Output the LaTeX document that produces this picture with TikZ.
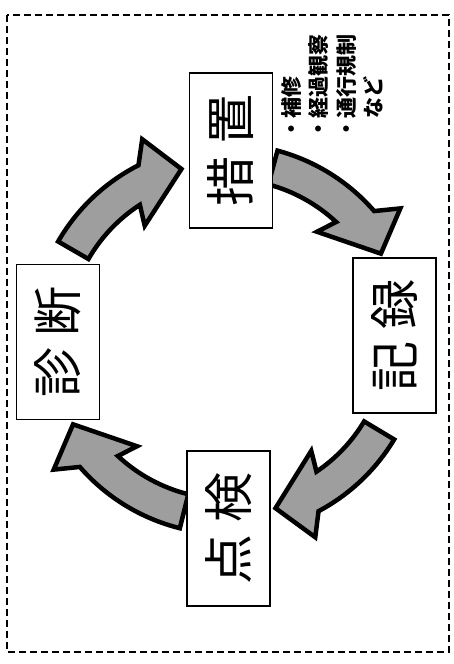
\documentclass[tikz,border=0pt]{standalone}
\usepackage{fontspec}
\newfontfamily\jpfont{Noto Sans CJK JP}
\begin{document}
\begin{tikzpicture}[x=1pt, y=-1pt,
  kasten/.style={draw=black, line width=1.2pt, fill=white, rotate=90,
    minimum width=155pt, minimum height=83pt, inner sep=0pt,
    font=\jpfont\fontsize{50}{54}\selectfont},
  notiz/.style={rotate=90, anchor=north west, align=left, inner sep=0pt,
    font=\jpfont\bfseries\fontsize{21}{27.5}\selectfont},
  pfeil/.style={draw=black, line width=4.5pt, fill=black!38, line join=miter}]
  \useasboundingbox (0,0) rectangle (454,664);
  % gestrichelter Rahmen
  \draw[line width=1.6pt, dash pattern=on 7pt off 4pt] (7,15) rectangle (449,652);
  % Mittelpunkt des Kreislaufs
  \coordinate (mitte) at (227,339);
  % Pfeile (Winkel im Bild, y nach unten): Ende \a, Spitze \t
  \foreach \a/\t in {-150/-105, -75/-29, 31/74, 104/151}{
    \draw[pfeil, shift={(mitte)}] (\a:195) arc[start angle=\a, end angle=\t-12, radius=195]
      -- ({\t-8}:217) -- (\t:176) -- ({\t-21}:140) -- ({\t-18}:160)
      arc[start angle=\t-18, end angle=\a, radius=160] -- cycle;
  }
  % Kaesten
  \node[kasten] (sochi)  at (231,150.5) {措 置};
  \node[kasten] (kiroku) at (394.5,335.5) {記 録};
  \node[kasten] (tenken) at (228.5,528.5) {点 検};
  \node[kasten] (shindan) at (58,342) {診 断};
  % Massnahmen neben dem Kasten
  \node[notiz] (beispiele) at (281,140) {・補修\\・経過観察\\・通行規制\\\hphantom{・}など};
\end{tikzpicture}
\end{document}
